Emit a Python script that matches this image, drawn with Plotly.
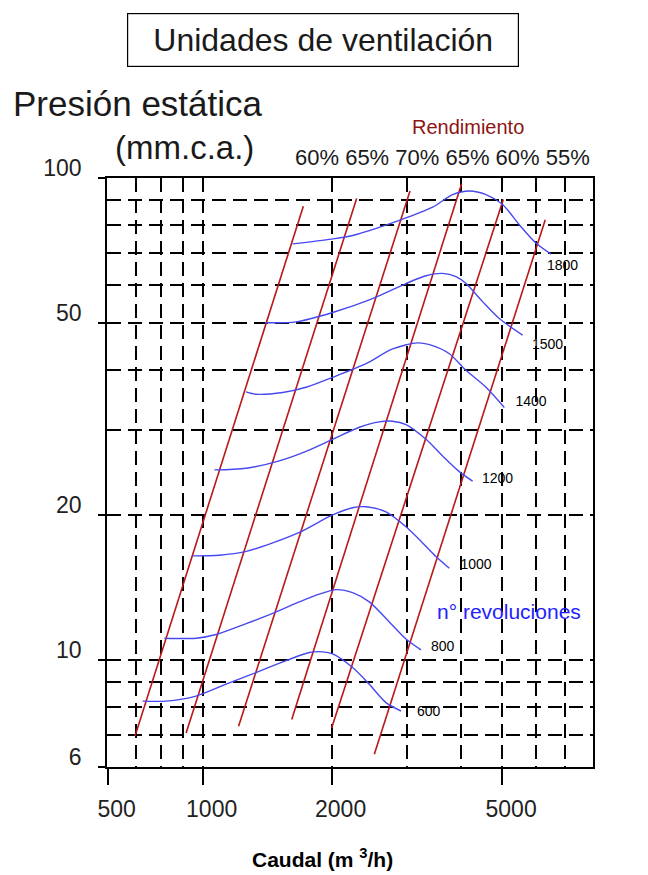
import numpy as np
import plotly.graph_objects as go

# ---------------- data ----------------
rpm_labels = ["1800", "1500", "1400", "1200", "1000", "800", "600"]

q_1800 = [1622, 2000, 2239, 2877, 3442, 3832, 4193, 4586, 5013, 5484, 5998, 6503]
p_1800 = [73.0, 74.7, 76.0, 81.7, 87.0, 92.4, 94.0, 92.4, 88.1, 80.0, 73.3, 69.5]

q_1500 = [1398, 1652, 2011, 2493, 2983, 3322, 3632, 3903, 4119, 4502, 4925, 5582]
p_1500 = [50.1, 50.3, 52.6, 56.2, 60.4, 62.7, 63.4, 62.4, 60.4, 55.4, 51.1, 47.2]

q_1400 = [1263, 1332, 1537, 1743, 2011, 2406, 2776, 3175, 3442, 3765, 4119, 4586, 5060]
p_1400 = [36.0, 35.6, 35.9, 36.8, 38.6, 41.2, 44.2, 45.5, 44.9, 43.2, 39.9, 36.8, 33.4]

q_1200 = [1065, 1263, 1510, 1743, 2011, 2321, 2585, 2776, 2983, 3322, 3632, 3972, 4267]
p_1200 = [24.8, 25.0, 25.9, 27.1, 28.7, 30.4, 31.2, 31.3, 30.8, 28.7, 26.5, 24.6, 23.5]

q_1000 = [948, 1094, 1263, 1457, 1681, 2011, 2239, 2406, 2679, 2983, 3262, 3505, 3765]
p_1000 = [16.45, 16.5, 16.8, 17.5, 18.4, 20.0, 20.7, 20.8, 20.3, 18.9, 17.5, 16.4, 15.5]

q_800 = [814, 965, 1075, 1263, 1457, 1681, 1872, 2048, 2239, 2449, 2679, 2983, 3234]
p_800 = [11.1, 11.1, 11.3, 11.9, 12.5, 13.2, 13.7, 14.0, 13.8, 13.2, 12.2, 11.06, 10.5]

q_600 = [724, 821, 965, 1134, 1332, 1565, 1774, 1905, 2011, 2239, 2449, 2679, 2904]
p_600 = [8.22, 8.22, 8.42, 8.91, 9.42, 9.97, 10.37, 10.4, 10.3, 9.65, 8.91, 8.16, 7.84]

label_q = [6921, 6385, 5840, 4880, 4346, 3632, 3369]
label_p = [65.5, 44.9, 34.2, 23.7, 15.7, 10.6, 7.77]

eff_labels = ["60%", "65%", "70%", "65%", "60%", "55%"]
eff_q_start = [695, 915, 1213, 1614, 2000, 2516]
eff_p_start = [6.95, 7.06, 7.29, 7.53, 7.23, 6.38]
eff_q_end = [1718, 2288, 3048, 4022, 5032, 6306]
eff_p_end = [87.4, 90.7, 94.0, 97.3, 90.2, 81.9]

x_tick_vals = [600, 1000, 2000, 5000]
x_tick_text = ["500", "1000", "2000", "5000"]
x_minor_vals = [700, 800, 900, 3000, 4000, 6000, 7000]
y_tick_vals = [6, 10, 20, 50, 100]
y_tick_text = ["6", "10", "20", "50", "100"]
y_minor_vals = [7, 8, 9, 30, 40, 60, 70, 80, 90]

# ---------------- layout geometry ----------------
OFF = 8                      # page body margin of the html page
W, H = 648 - OFF, 875 - OFF
ML, MT = 107 - OFF, 178 - OFF
PW, PH = 486, 589
MR, MB = W - ML - PW, H - MT - PH

def px(xp):
    return (xp - OFF - ML) / PW

def py(yp):
    return 1 - (yp - OFF - MT) / PH

FONT = "Liberation Sans, Arial, sans-serif"
BLUE = "#4848F0"
RED = "#B81818"
DASH = "14px,7px"
TXT = "#1a1a1a"

fig = go.Figure()

# efficiency lines
for qs, ps, qe, pe in zip(eff_q_start, eff_p_start, eff_q_end, eff_p_end):
    fig.add_trace(go.Scatter(x=[qs, qe], y=[ps, pe], mode="lines",
                             line=dict(color=RED, width=1.6),
                             hoverinfo="skip", showlegend=False))

# rpm curves
curves = [(q_1800, p_1800), (q_1500, p_1500), (q_1400, p_1400), (q_1200, p_1200),
          (q_1000, p_1000), (q_800, p_800), (q_600, p_600)]
for q, p in curves:
    fig.add_trace(go.Scatter(x=q, y=p, mode="lines",
                             line=dict(color=BLUE, width=1.4, shape="spline", smoothing=0.8),
                             hoverinfo="skip", showlegend=False))

# rpm labels
fig.add_trace(go.Scatter(x=label_q, y=label_p, mode="text", text=rpm_labels,
                         textposition="middle center",
                         textfont=dict(family=FONT, size=14, color="black"),
                         hoverinfo="skip", showlegend=False))

axis_common = dict(type="log", showline=True, linecolor="black", linewidth=1.5,
                   mirror=True, showgrid=True, gridcolor="black", gridwidth=1.5,
                   griddash=DASH, zeroline=False,
                   tickfont=dict(family=FONT, size=23, color="#222"),
                   tickmode="array")

fig.update_xaxes(**axis_common, range=[np.log10(598), np.log10(8150)],
                 tickvals=x_tick_vals, ticktext=x_tick_text,
                 ticks="outside", ticklen=16, tickwidth=1.5, tickcolor="black",
                 ticklabelshift=9, ticklabelstandoff=5,
                 minor=dict(tickmode="array", tickvals=x_minor_vals, showgrid=True,
                            gridcolor="black", gridwidth=1.5, griddash=DASH,
                            ticks=""))
fig.update_yaxes(**axis_common, range=[np.log10(6), np.log10(100)],
                 tickvals=y_tick_vals, ticktext=y_tick_text,
                 ticks="outside", ticklen=7, tickwidth=1.5, tickcolor="black",
                 ticklabelshift=-10, ticklabelstandoff=12,
                 minor=dict(tickmode="array", tickvals=y_minor_vals, showgrid=True,
                            gridcolor="black", gridwidth=1.5, griddash=DASH,
                            ticks=""))

ann = []
ann.append(dict(text="Unidades de ventilación", x=px(323), y=py(40), xref="paper", yref="paper",
                xanchor="center", yanchor="middle", showarrow=False,
                font=dict(family=FONT, size=32, color=TXT),
                bordercolor="black", borderwidth=1.2, borderpad=0, width=390, height=52))
ann.append(dict(text="Presión estática", x=px(11), y=py(103), xref="paper", yref="paper",
                xanchor="left", yanchor="middle", showarrow=False,
                font=dict(family=FONT, size=35, color=TXT)))
ann.append(dict(text="(mm.c.a.)", x=px(113), y=py(148), xref="paper", yref="paper",
                xanchor="left", yanchor="middle", showarrow=False,
                font=dict(family=FONT, size=33, color=TXT)))
ann.append(dict(text="Rendimiento", x=px(468), y=py(127), xref="paper", yref="paper",
                xanchor="center", yanchor="middle", showarrow=False,
                font=dict(family=FONT, size=20, color="#8E1414")))
ann.append(dict(text=" ".join(eff_labels), x=px(442), y=py(157), xref="paper", yref="paper",
                xanchor="center", yanchor="middle", showarrow=False,
                font=dict(family=FONT, size=22, color=TXT)))
ann.append(dict(text="n° revoluciones", x=px(509), y=py(611), xref="paper", yref="paper",
                xanchor="center", yanchor="middle", showarrow=False,
                font=dict(family=FONT, size=21, color="#2222FF")))
ann.append(dict(text="<b>Caudal (m <sup>3</sup>/h)</b>", x=px(322), y=py(858), xref="paper", yref="paper",
                xanchor="center", yanchor="middle", showarrow=False,
                font=dict(family=FONT, size=21, color="black")))

fig.update_layout(width=W, height=H, margin=dict(l=ML, r=MR, t=MT, b=MB, autoexpand=False),
                  paper_bgcolor="white", plot_bgcolor="white", annotations=ann,
                  showlegend=False)

fig.write_html("out.html")
